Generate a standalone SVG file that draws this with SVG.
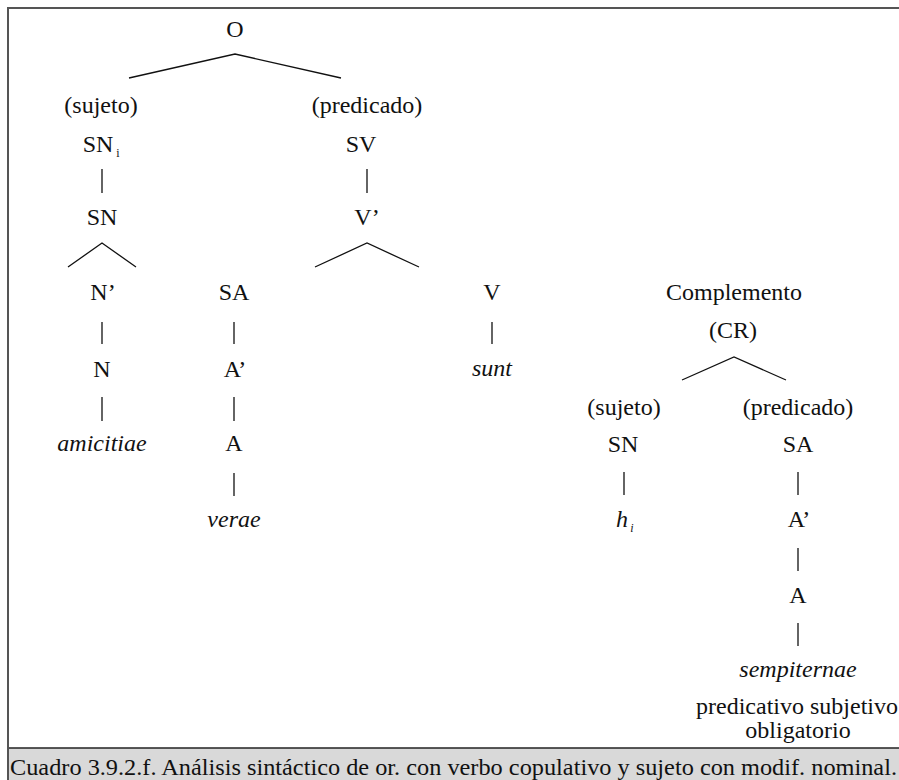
<svg xmlns="http://www.w3.org/2000/svg" width="899" height="780" viewBox="0 0 899 780" font-family="'Liberation Serif', 'DejaVu Serif', 'Times New Roman', Times, serif">
  <style>
    text { font-size: 24px; fill: #111; text-anchor: middle; }
    .it { font-style: italic; }
    .sub { font-size: 12px; }
    .edge { stroke: #111; stroke-width: 1.3; fill: none; }
    .frame { stroke: #555; stroke-width: 2; fill: none; }
  </style>
  <rect x="0" y="0" width="899" height="780" fill="#fff"/>

  <!-- caption bar -->
  <rect x="8" y="748" width="891" height="32" fill="#d9d9d9"/>
  <line x1="8" y1="748" x2="899" y2="748" stroke="#222" stroke-width="1.5"/>
  <text x="10" y="775" style="text-anchor:start" textLength="887" lengthAdjust="spacingAndGlyphs">Cuadro 3.9.2.f. Análisis sintáctico de or. con verbo copulativo y sujeto con modif. nominal.</text>

  <!-- frame -->
  <path class="frame" d="M899,8 H8 V780"/>

  <!-- connectors -->
  <g id="connectors" class="edge">
    <polyline points="129,78 235,54 341,78"/>
    <line x1="102" y1="169" x2="102" y2="193"/>
    <line x1="367" y1="169" x2="367" y2="193"/>
    <polyline points="68,267 102,243 136,267"/>
    <polyline points="315,267 367,243 419,267"/>
    <line x1="102" y1="322" x2="102" y2="344"/>
    <line x1="234" y1="322" x2="234" y2="344"/>
    <line x1="492" y1="322" x2="492" y2="344"/>
    <line x1="102" y1="397" x2="102" y2="421"/>
    <line x1="234" y1="397" x2="234" y2="421"/>
    <line x1="234" y1="473" x2="234" y2="496"/>
    <polyline points="682,380 734,357 786,380"/>
    <line x1="624" y1="472" x2="624" y2="495"/>
    <line x1="798" y1="472" x2="798" y2="495"/>
    <line x1="798" y1="548" x2="798" y2="571"/>
    <line x1="798" y1="623" x2="798" y2="646"/>
  </g>

  <!-- nodes -->
  <g id="n-O"><text x="235" y="37">O</text></g>
  <g id="n-SNi">
    <text x="101" y="113">(sujeto)</text>
    <text x="98" y="152">SN</text>
    <text x="118" y="157" class="sub">i</text>
  </g>
  <g id="n-SV">
    <text x="367" y="113">(predicado)</text>
    <text x="361" y="152">SV</text>
  </g>
  <g id="n-SN"><text x="102" y="225">SN</text></g>
  <g id="n-V1"><text x="367" y="225">V’</text></g>
  <g id="n-N1"><text x="103" y="300">N’</text></g>
  <g id="n-SA"><text x="234" y="300">SA</text></g>
  <g id="n-V"><text x="492" y="300">V</text></g>
  <g id="n-N"><text x="102" y="377">N</text></g>
  <g id="n-A1"><text x="235" y="377">A’</text></g>
  <g id="n-sunt"><text x="492" y="376" class="it">sunt</text></g>
  <g id="n-amicitiae"><text x="102" y="451" class="it">amicitiae</text></g>
  <g id="n-A"><text x="234" y="451">A</text></g>
  <g id="n-verae"><text x="234" y="527" class="it">verae</text></g>

  <g id="n-CR">
    <text x="734" y="300">Complemento</text>
    <text x="733" y="338">(CR)</text>
  </g>
  <g id="n-SN2">
    <text x="624" y="415">(sujeto)</text>
    <text x="623" y="452">SN</text>
  </g>
  <g id="n-SA2">
    <text x="798" y="415">(predicado)</text>
    <text x="798" y="452">SA</text>
  </g>
  <g id="n-hi">
    <text x="622" y="527" class="it">h</text>
    <text x="632" y="532" class="it sub">i</text>
  </g>
  <g id="n-A2"><text x="799" y="527">A’</text></g>
  <g id="n-A3"><text x="798" y="603">A</text></g>
  <g id="n-sempiternae">
    <text x="798" y="677" class="it">sempiternae</text>
    <text x="797" y="714">predicativo subjetivo</text>
    <text x="798" y="738">obligatorio</text>
  </g>
</svg>
